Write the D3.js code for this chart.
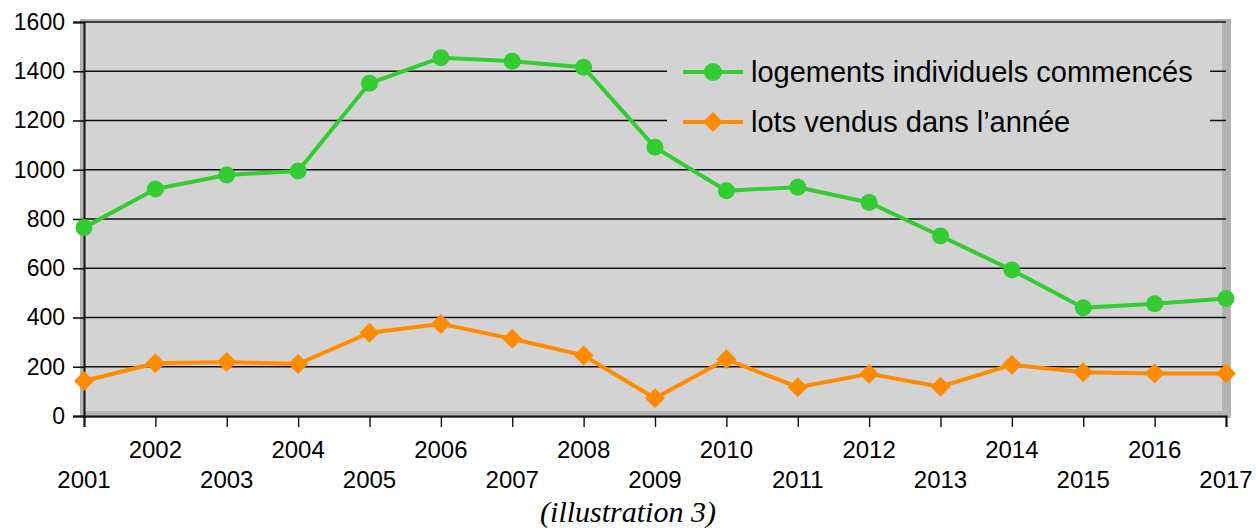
<!DOCTYPE html>
<html>
<head>
<meta charset="utf-8">
<script src="https://cdn.jsdelivr.net/npm/d3@7"></script>
<style>
  body { margin: 0; background: #fff; }
  svg { display: block; }
  text { font-family: "Liberation Sans", Arial, sans-serif; fill: #000; }
</style>
</head>
<body>
<svg id="chart" width="1256" height="528"></svg>
<script>
const years = [2001, 2002, 2003, 2004, 2005, 2006, 2007, 2008, 2009, 2010, 2011, 2012, 2013, 2014, 2015, 2016, 2017];
const logements = [765, 922, 979, 995, 1351, 1455, 1441, 1416, 1091, 915, 929, 867, 731, 593, 440, 456, 477];
const lots = [142, 214, 219, 211, 338, 374, 314, 246, 72, 230, 117, 171, 119, 208, 178, 173, 173];
const yTicks = [0, 200, 400, 600, 800, 1000, 1200, 1400, 1600];
const seriesNames = ["logements individuels commencés", "lots vendus dans l\u2019année"];
const caption = "(illustration 3)";

const svg = d3.select("#chart");
const margin = { left: 84, top: 22, right: 1226, bottom: 416 };

const x = d3.scalePoint().domain(years).range([margin.left, margin.right]);
const y = d3.scaleLinear().domain([0, 1600]).range([margin.bottom, margin.top]);

// plot background with its grey shadow edges
svg.append("rect")
  .attr("x", margin.left - 4).attr("y", margin.top - 3)
  .attr("width", margin.right - margin.left + 9).attr("height", margin.bottom - margin.top + 5)
  .attr("fill", "#b3b3b3");
svg.append("rect")
  .attr("x", margin.left).attr("y", margin.top)
  .attr("width", margin.right - margin.left - 4).attr("height", margin.bottom - margin.top - 5)
  .attr("fill", "#d3d3d3");

// gridlines
svg.append("g")
  .selectAll("line")
  .data(yTicks.filter(d => d > 0))
  .join("line")
  .attr("x1", margin.left).attr("x2", margin.right)
  .attr("y1", d => y(d)).attr("y2", d => y(d))
  .attr("stroke", "#111").attr("stroke-width", 1.6);

// y axis
const yAxis = svg.append("g")
  .attr("transform", `translate(${margin.left},0)`)
  .call(d3.axisLeft(y).tickValues(yTicks).tickSize(11).tickPadding(8).tickFormat(d3.format("d")));
yAxis.select(".domain").attr("stroke", "#111").attr("stroke-width", 2);
yAxis.selectAll(".tick line").attr("stroke", "#111").attr("stroke-width", 1.6);
yAxis.selectAll(".tick text")
  .style("font-family", "'Liberation Sans', Arial, sans-serif")
  .style("font-size", "23px").attr("fill", "#000");

// x axis
const xAxis = svg.append("g")
  .attr("transform", `translate(0,${margin.bottom})`)
  .call(d3.axisBottom(x).tickSize(11).tickFormat(""));
xAxis.select(".domain").attr("stroke", "#111").attr("stroke-width", 2);
xAxis.selectAll(".tick line").attr("stroke", "#111").attr("stroke-width", 1.4);

svg.append("g")
  .selectAll("text")
  .data(years)
  .join("text")
  .attr("x", d => x(d))
  .attr("y", (d, i) => i % 2 === 0 ? 488 : 458)
  .attr("text-anchor", "middle")
  .style("font-size", "24px")
  .text(d => d);

// legend box
const legend = svg.append("g");
legend.append("rect")
  .attr("x", 667).attr("y", 44).attr("width", 543).attr("height", 104)
  .attr("fill", "#d3d3d3");

const green = "#33cc33";
const orange = "#ff8c00";
const square = d3.symbol().type(d3.symbolSquare).size(200);

function drawSeries(values, color, marker) {
  const line = d3.line().x((d, i) => x(years[i])).y(d => y(d));
  svg.append("path")
    .datum(values)
    .attr("fill", "none")
    .attr("stroke", color)
    .attr("stroke-width", 4)
    .attr("stroke-linejoin", "round")
    .attr("d", line);
  const g = svg.append("g");
  if (marker === "circle") {
    g.selectAll("circle").data(values).join("circle")
      .attr("cx", (d, i) => x(years[i])).attr("cy", d => y(d))
      .attr("r", 8.5).attr("fill", color);
  } else {
    g.selectAll("path").data(values).join("path")
      .attr("transform", (d, i) => `translate(${x(years[i])},${y(d)}) rotate(45)`)
      .attr("d", square).attr("fill", color);
  }
}

drawSeries(lots, orange, "diamond");
drawSeries(logements, green, "circle");

const legendItems = [
  { name: seriesNames[0], color: green, marker: "circle", y: 72 },
  { name: seriesNames[1], color: orange, marker: "diamond", y: 122 }
];
legendItems.forEach(item => {
  legend.append("line")
    .attr("x1", 683).attr("x2", 743)
    .attr("y1", item.y).attr("y2", item.y)
    .attr("stroke", item.color).attr("stroke-width", 4);
  if (item.marker === "circle") {
    legend.append("circle").attr("cx", 713).attr("cy", item.y).attr("r", 9).attr("fill", item.color);
  } else {
    legend.append("path")
      .attr("transform", `translate(713,${item.y}) rotate(45)`)
      .attr("d", square).attr("fill", item.color);
  }
  legend.append("text")
    .attr("x", 751).attr("y", item.y + 10)
    .style("font-size", "29px")
    .text(item.name);
});

svg.append("text")
  .attr("x", 628).attr("y", 522)
  .attr("text-anchor", "middle")
  .style("font-family", "'Liberation Serif', 'Times New Roman', serif")
  .style("font-style", "italic")
  .style("font-size", "30px")
  .text(caption);
</script>
</body>
</html>
